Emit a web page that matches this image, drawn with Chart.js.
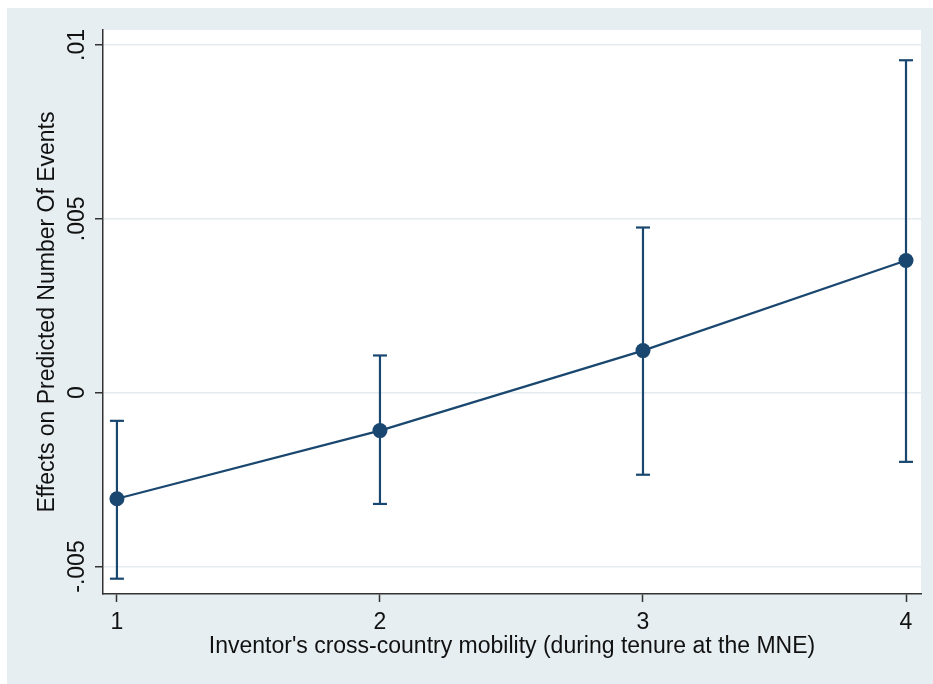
<!DOCTYPE html>
<html>
<head>
<meta charset="utf-8">
<script src="https://cdn.jsdelivr.net/npm/chart.js@4.4.1/dist/chart.umd.min.js"></script>
<style>
  html, body { margin: 0; padding: 0; background: #ffffff; }
  #wrap { width: 933px; height: 684px; position: relative; }
</style>
</head>
<body>
<div id="wrap"><canvas id="c" width="933" height="684"></canvas></div>
<script>
// ---- data ----
const categories = [1, 2, 3, 4];
const estimates  = [-0.00305, -0.00109, 0.00121, 0.00380];
const ciLower    = [-0.00535, -0.00320, -0.00236, -0.00199];
const ciUpper    = [-0.00081, 0.00107, 0.00475, 0.00956];
const yTickValues = [-0.005, 0, 0.005, 0.01];
const yTickLabels = ['-.005', '0', '.005', '.01'];
const xTickValues = [1, 2, 3, 4];
const xTickLabels = ['1', '2', '3', '4'];
const xTitle = "Inventor's cross-country mobility (during tenure at the MNE)";
const yTitle = 'Effects on Predicted Number Of Events';

const NAVY = '#1a476f';
const PANEL = '#e6eef1';
const FONT = "'Liberation Sans', Arial, Helvetica, sans-serif";
const FS = 23;

const datasets = [];
categories.forEach((c, i) => {
  datasets.push({
    type: 'line',
    data: [{x: c, y: ciLower[i]}, {x: c, y: ciUpper[i]}],
    borderColor: NAVY,
    borderWidth: 2.2,
    pointStyle: 'line',
    pointRadius: 7,
    pointBorderWidth: 2.2,
    pointBorderColor: NAVY,
    pointHoverRadius: 7,
    fill: false,
    order: 2
  });
});
datasets.push({
  type: 'line',
  data: categories.map((c, i) => ({x: c, y: estimates[i]})),
  borderColor: NAVY,
  borderWidth: 2.2,
  pointStyle: 'circle',
  pointRadius: 7.5,
  pointBackgroundColor: NAVY,
  pointBorderColor: NAVY,
  pointBorderWidth: 0,
  fill: false,
  tension: 0,
  order: 1
});

const bgPlugin = {
  id: 'bg',
  beforeDraw(chart) {
    const {ctx, chartArea: a} = chart;
    ctx.save();
    ctx.fillStyle = '#ffffff';
    ctx.fillRect(0, 0, chart.width, chart.height);
    ctx.fillStyle = PANEL;
    ctx.fillRect(7, 8, chart.width - 7, chart.height - 8);
    ctx.fillStyle = '#ffffff';
    ctx.fillRect(a.left, a.top, a.right - a.left, a.bottom - a.top);
    ctx.restore();
  }
};

new Chart(document.getElementById('c'), {
  type: 'line',
  data: { datasets },
  plugins: [bgPlugin],
  options: {
    responsive: false,
    animation: false,
    devicePixelRatio: 1,
    layout: { padding: { left: 34, top: 30, right: 12, bottom: 24 } },
    plugins: { legend: { display: false }, tooltip: { enabled: false }, title: { display: false } },
    scales: {
      x: {
        type: 'linear',
        min: 0.947,
        max: 4.057,
        afterBuildTicks(scale) { scale.ticks = xTickValues.map(v => ({value: v})); },
        afterFit(scale) { scale.height = 66; },
        ticks: {
          callback(v) { const i = xTickValues.indexOf(v); return i >= 0 ? xTickLabels[i] : ''; },
          color: '#111',
          font: { family: FONT, size: FS },
          padding: 7,
          maxRotation: 0,
          autoSkip: false
        },
        grid: { drawOnChartArea: false, drawTicks: true, tickLength: 8, tickColor: '#333', tickWidth: 1.5 },
        border: { display: true, color: '#333', width: 1.5 },
        title: {
          display: true,
          text: xTitle,
          color: '#111',
          font: { family: FONT, size: FS },
          padding: { top: 0, bottom: 0 }
        }
      },
      y: {
        type: 'linear',
        min: -0.00579,
        max: 0.01043,
        afterBuildTicks(scale) { scale.ticks = yTickValues.map(v => ({value: v})); },
        afterFit(scale) { scale.width = 69; },
        ticks: {
          callback(v) { const i = yTickValues.findIndex(t => Math.abs(t - v) < 1e-9); return i >= 0 ? yTickLabels[i] : ''; },
          color: '#111',
          font: { family: FONT, size: FS },
          minRotation: 90,
          maxRotation: 90,
          crossAlign: 'center',
          padding: -9,
          autoSkip: false
        },
        grid: { color: '#e4ecef', lineWidth: 1.5, drawTicks: true, tickLength: 8, tickColor: '#333', tickWidth: 1.5 },
        border: { display: true, color: '#333', width: 1.5 },
        title: {
          display: true,
          text: yTitle,
          color: '#111',
          font: { family: FONT, size: FS },
          padding: { top: 0, bottom: 0 }
        }
      }
    }
  }
});
</script>
</body>
</html>
